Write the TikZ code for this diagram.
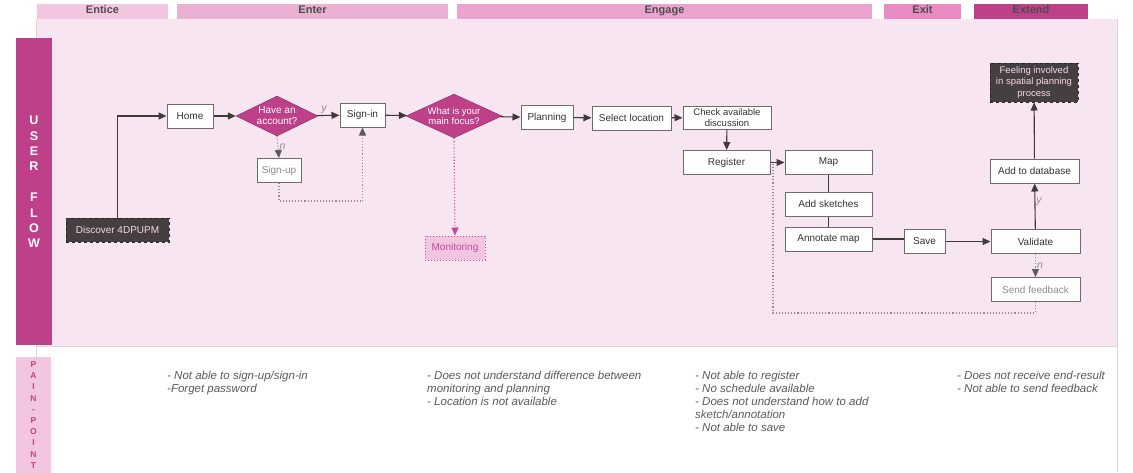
\documentclass[tikz,border=0pt]{standalone}
\usepackage{fontspec}
\setmainfont{Liberation Sans}
\usepackage{tikz}
\usetikzlibrary{shapes.geometric}
\usetikzlibrary{arrows.meta}

\definecolor{lanebg}{HTML}{F7E6F1}
\definecolor{plum}{HTML}{BE4088}
\definecolor{blush}{HTML}{F2C6E0}
\definecolor{rose}{HTML}{EAB1D2}
\definecolor{orchid}{HTML}{EBA4CF}
\definecolor{flamingo}{HTML}{E98AC3}
\definecolor{ink}{HTML}{463F41}
\definecolor{edge}{HTML}{6F6B6D}
\definecolor{wire}{HTML}{3F393B}
\definecolor{note}{HTML}{5A5A5A}
\definecolor{faint}{HTML}{8C8C8C}
\definecolor{rim}{HTML}{D9D6D8}
\definecolor{hot}{HTML}{C8479A}

\tikzset{
  box/.style={draw=edge, fill=white, line width=1pt, inner sep=1pt,
    minimum height=24pt, text=black!80, align=center,
    font=\fontsize{10}{11}\selectfont},
  dimbox/.style={box, text=faint},
  darkbox/.style={box, draw=black!85, dashed, fill=ink, text=blush!70!white},
  decision/.style={diamond, aspect=2, draw=plum!70!black, fill=plum,
    text=white, inner sep=0pt, align=center, minimum height=40pt,
    font=\fontsize{10}{11}\selectfont},
  flow/.style={draw=wire, line width=1.1pt,
    -{Triangle[length=8pt,width=7pt]}},
  link/.style={draw=wire, line width=1.1pt},
  dotflow/.style={draw=faint, line width=1.1pt, dotted,
    -{Triangle[length=8pt,width=7pt,color=note]}},
  dotline/.style={draw=faint, line width=1.1pt, dotted},
  lbl/.style={font=\itshape\fontsize{10.5}{12}\selectfont, text=faint,
    inner sep=1pt},
  phaselabel/.style={font=\bfseries\fontsize{11}{13}\selectfont,
    text=black!70, text height=8pt, text depth=2pt, inner sep=0pt},
  pain/.style={anchor=north west, inner sep=0pt, align=left, text=note,
    font=\itshape\fontsize{11.5}{13}\selectfont}
}

\newcommand{\phase}[5]{\fill[#4] (#2,3.5) rectangle (#3,19);
  \node[phaselabel] (#1) at ({(#2+#3)/2},10.5) {#5};}
\newcommand{\flowbox}[4]{\node[box, minimum width=#4] (#1) at #2 {#3};}

\begin{document}
\begin{tikzpicture}[x=1pt,y=-1pt]
\useasboundingbox (0,0) rectangle (1133,472);
% lanes
\fill[lanebg] (36,19) rectangle (1117,346);
\fill[white] (36,346) rectangle (1117,472);
\draw[rim] (36,19) -- (36,472);
\draw[rim] (36,346) -- (1117,346);
\draw[rim] (1117,19) -- (1117,472);
% phases
\phase{entice}{37}{168}{blush}{Entice}
\phase{enter}{177}{448}{rose}{Enter}
\phase{engage}{457}{872}{orchid}{Engage}
\phase{exit}{884}{961}{flamingo}{Exit}
\phase{extend}{974}{1088}{plum}{Extend}
% side labels
\fill[plum] (16,38) rectangle (52,345);
\node[align=center, text=white, font=\bfseries\fontsize{12.5}{15.4}\selectfont]
  (userflow) at (34,182) {U\\S\\E\\R\\[15.4pt]F\\L\\O\\W};
\fill[blush] (16,357) rectangle (51,480);
\node[align=center, text=plum, font=\bfseries\fontsize{8.5}{11.2}\selectfont]
  (painpoint) at (33.5,415) {P\\A\\I\\N\\-\\P\\O\\I\\N\\T};

% enter
\node[darkbox, minimum width=103pt] (discover) at (117.5,230) {Discover 4DPUPM};
\flowbox{home}{(190,116)}{Home}{46pt}
\node[decision, minimum width=82pt] (account) at (277,116) {Have an\\account?};
\flowbox{signin}{(362.5,115)}{Sign-in}{45pt}
\node[dimbox, minimum width=44pt] (signup) at (279,170.5) {Sign-up};
\coordinate (signloop) at (362.5,201);

% engage
\node[decision, minimum width=96pt, font=\fontsize{9.5}{10.5}\selectfont]
  (focus) at (454,116) {What is your\\main focus?};
\node[box, draw=hot, dotted, fill=blush, text=hot, minimum width=60pt]
  (monitoring) at (455,248) {Monitoring};
\flowbox{planning}{(547,117.5)}{Planning}{52pt}
\flowbox{location}{(631.5,118)}{Select location}{79pt}
\node[box, minimum width=88pt, minimum height=23pt, font=\fontsize{9.5}{10.5}\selectfont]
  (check) at (727,117.5) {Check available\\discussion};
\flowbox{register}{(726.5,162.5)}{Register}{87pt}
\flowbox{map}{(828.5,162.5)}{Map}{87pt}
\flowbox{sketches}{(828.5,204)}{Add sketches}{87pt}
\flowbox{annotate}{(828.5,239)}{Annotate map}{87pt}

% exit and extend
\flowbox{save}{(924.5,241.5)}{Save}{41pt}
\flowbox{validate}{(1035.5,241.5)}{Validate}{89pt}
\flowbox{database}{(1034.5,171)}{Add to database}{89pt}
\node[darkbox, minimum width=88pt, minimum height=39pt, font=\fontsize{9.5}{11.3}\selectfont]
  (feeling) at (1034,82.5) {Feeling involved\\in spatial planning\\process};
\node[dimbox, minimum width=89pt] (feedback) at (1035.5,289.5) {Send feedback};
\coordinate (fbturn) at (773,313);

% connectors
\draw[flow] (discover.north) |- (home.west);
\draw[flow] (home) -- (account);
\draw[flow] (account) -- node[lbl, above, pos=0.3] {y} (signin);
\draw[dotflow] (account.south) -- node[lbl, right] {n} (signup.north);
\draw[dotline] (signup.south) |- (signloop);
\draw[dotflow] (signloop) -- (signin.south);
\draw[flow] (signin) -- (focus);
\draw[dotflow, draw=hot, -{Triangle[length=8pt,width=7pt,color=hot]}]
  (focus.south) -- (monitoring.north);
\draw[flow] (focus) -- (planning);
\draw[flow] (planning) -- (location);
\draw[flow] (location) -- (check);
\draw[flow] (check) -- (register);
\draw[flow] (register) -- (map);
\draw[link] (map) -- (sketches);
\draw[link] (sketches) -- (annotate);
\draw[link] (annotate) -- (annotate -| save.west);
\draw[flow] (save) -- (validate);
\draw[flow] (validate) -- node[lbl, right, pos=0.6] {y} (database);
\draw[flow] (database) -- (feeling);
\draw[dotflow] (validate) -- node[lbl, right] {n} (feedback);
\draw[dotline] (feedback.south) |- (fbturn) -- (fbturn |- register.east);

% pain points
\node[pain] (painenter) at (167,371) {- Not able to sign-up/sign-in\\-Forget password};
\node[pain] (painfocus) at (427,371) {- Does not understand difference between\\monitoring and planning\\- Location is not available};
\node[pain] (painengage) at (695,371) {- Not able to register\\- No schedule available\\- Does not understand how to add\\sketch/annotation\\- Not able to save};
\node[pain] (painextend) at (957,371) {- Does not receive end-result\\- Not able to send feedback};
\end{tikzpicture}
\end{document}
